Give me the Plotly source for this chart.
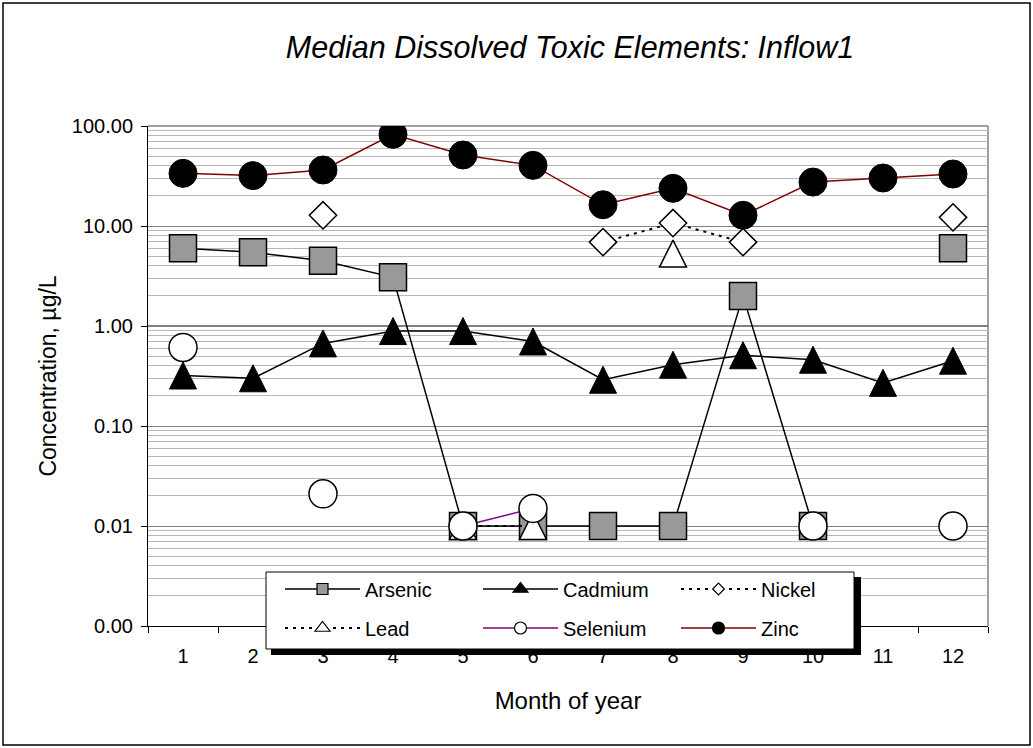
import plotly.graph_objects as go

# ---- data: monthly median dissolved concentrations (µg/L) ----
months = [str(m) for m in range(1, 13)]
arsenic = [6.0, 5.45, 4.5, 3.07, 0.01, 0.01, 0.01, 0.01, 2.0, 0.01, None, 6.0]
cadmium = [0.32, 0.30, 0.67, 0.89, 0.89, 0.70, 0.29, 0.41, 0.51, 0.46, 0.27, 0.45]
nickel = [None, None, 12.8, None, None, None, 6.9, 10.7, 6.9, None, None, 12.2]
lead = [None, None, None, None, 0.01, 0.01, None, 5.3, None, None, None, None]
selenium = [0.61, None, 0.021, None, 0.01, 0.015, None, None, None, 0.01, None, 0.01]
zinc = [33.6, 31.9, 36.3, 82.6, 51.3, 40.4, 16.3, 23.8, 12.8, 27.5, 30.2, 33.1]

y_tickvals = [0.001, 0.01, 0.1, 1, 10, 100]
y_ticktext = ["0.00", "0.01", "0.10", "1.00", "10.00", "100.00"]

# ---- page geometry ----
W, H = 1033, 748
L, R, T, B = 148, 45, 126, 122
PW, PH = W - L - R, H - T - B
FONT = "Liberation Sans, Arial, sans-serif"


def px_x(px):
    return (px - L) / PW


def px_y(py):
    return (H - B - py) / PH


# name, values, marker style, line style, legend marker (symbol, size), legend row
series = [
    ("Arsenic", arsenic,
     dict(symbol="square", size=27, color="#999999", line=dict(color="black", width=1.5)),
     dict(color="black", width=1.5), ("square", 11), "legend"),
    ("Cadmium", cadmium,
     dict(symbol="arrow-down", angle=180, standoff=13.5, size=27, color="black",
          line=dict(color="black", width=1)),
     dict(color="black", width=1.5), ("triangle-up", 13), "legend"),
    ("Nickel", nickel,
     dict(symbol="diamond", size=21, color="white", line=dict(color="black", width=1.5)),
     dict(color="black", width=2, dash="3px,5px"), ("diamond", 9), "legend"),
    ("Lead", lead,
     dict(symbol="arrow-down", angle=180, standoff=13.5, size=27, color="white",
          line=dict(color="black", width=1.5)),
     dict(color="black", width=2, dash="3px,5px"), ("triangle-up", 13), "legend2"),
    ("Selenium", selenium,
     dict(symbol="circle", size=28, color="white", line=dict(color="black", width=1.5)),
     dict(color="#800080", width=1.5), ("circle", 12), "legend2"),
    ("Zinc", zinc,
     dict(symbol="circle", size=28, color="black", line=dict(color="black", width=1)),
     dict(color="#800000", width=1.5), ("circle", 12), "legend2"),
]

fig = go.Figure()

for name, vals, marker, line, _, _ in series:
    fig.add_trace(go.Scatter(
        x=months, y=vals, name=name, mode="lines+markers",
        marker=marker, line=line, connectgaps=False, showlegend=False,
        hoverinfo="x+y+name",
    ))

# legend-only entries with small symbols
for name, vals, marker, line, (lsym, lsize), leg in series:
    fig.add_trace(go.Scatter(
        x=[None], y=[None], name=name, mode="lines+markers",
        marker=dict(symbol=lsym, size=lsize, color=marker["color"],
                    line=dict(color="black", width=1.2)),
        line=line, legend=leg, showlegend=True,
    ))

shapes = [
    # outer chart border
    dict(type="rect", xref="paper", yref="paper",
         x0=px_x(3), x1=px_x(1030), y0=px_y(745), y1=px_y(3),
         line=dict(color="black", width=1.5), layer="below"),
    # plot-area frame (top and right)
    dict(type="line", xref="paper", yref="paper", x0=0, x1=1, y0=1, y1=1,
         line=dict(color="#808080", width=1.5), layer="below"),
    dict(type="line", xref="paper", yref="paper", x0=1, x1=1, y0=0, y1=1,
         line=dict(color="#808080", width=1.5), layer="below"),
    # emphasised gridline at 1.00
    dict(type="line", xref="paper", yref="y", x0=0, x1=1, y0=1, y1=1,
         line=dict(color="black", width=1), layer="below"),
    # legend drop shadow and box
    dict(type="rect", xref="paper", yref="paper",
         x0=px_x(271), x1=px_x(861), y0=px_y(655), y1=px_y(577),
         fillcolor="black", line=dict(width=0), layer="above"),
    dict(type="rect", xref="paper", yref="paper",
         x0=px_x(266), x1=px_x(854), y0=px_y(649), y1=px_y(572),
         fillcolor="white", line=dict(color="black", width=1), layer="above"),
]

legend_common = dict(
    orientation="h", bgcolor="rgba(0,0,0,0)", borderwidth=0,
    font=dict(family=FONT, size=20, color="black"),
    itemwidth=75, entrywidth=108, xanchor="left", yanchor="middle",
    itemclick=False, itemdoubleclick=False,
)

minor_vals = [d * 10 ** e for e in range(-3, 2) for d in range(2, 10)]

fig.update_layout(
    width=W, height=H,
    margin=dict(l=L, r=R, t=T, b=B, autoexpand=False),
    paper_bgcolor="white", plot_bgcolor="white",
    font=dict(family=FONT, size=20, color="black"),
    title=dict(
        text="Median Dissolved Toxic Elements: Inflow1",
        font=dict(family=FONT, size=30.5, color="black", style="italic"),
        x=570 / W, xref="container", xanchor="center",
        y=1 - 47 / H, yref="container", yanchor="middle",
    ),
    xaxis=dict(
        type="category", range=[-0.5, 11.5],
        tickson="boundaries", ticks="outside", ticklen=6, tickcolor="black",
        showline=True, linecolor="black", linewidth=1,
        showgrid=False, zeroline=False,
        tickfont=dict(family=FONT, size=20), ticklabelstandoff=12,
        title=dict(text="Month of year", font=dict(family=FONT, size=24), standoff=26),
    ),
    yaxis=dict(
        type="log", range=[-3, 2],
        tickvals=y_tickvals, ticktext=y_ticktext,
        ticks="outside", ticklen=6, tickcolor="black",
        showline=True, linecolor="black", linewidth=1,
        showgrid=True, gridcolor="#808080", gridwidth=1, zeroline=False,
        minor=dict(tickvals=minor_vals, showgrid=True, gridcolor="#b8b8b8",
                   gridwidth=1, ticks=""),
        tickfont=dict(family=FONT, size=20), ticklabelstandoff=4,
        title=dict(text="Concentration, µg/L", font=dict(family=FONT, size=23), standoff=8),
    ),
    legend=dict(legend_common, x=px_x(280), y=px_y(589)),
    legend2=dict(legend_common, x=px_x(280), y=px_y(628)),
    shapes=shapes,
    showlegend=True,
)

fig.write_html("out.html")
